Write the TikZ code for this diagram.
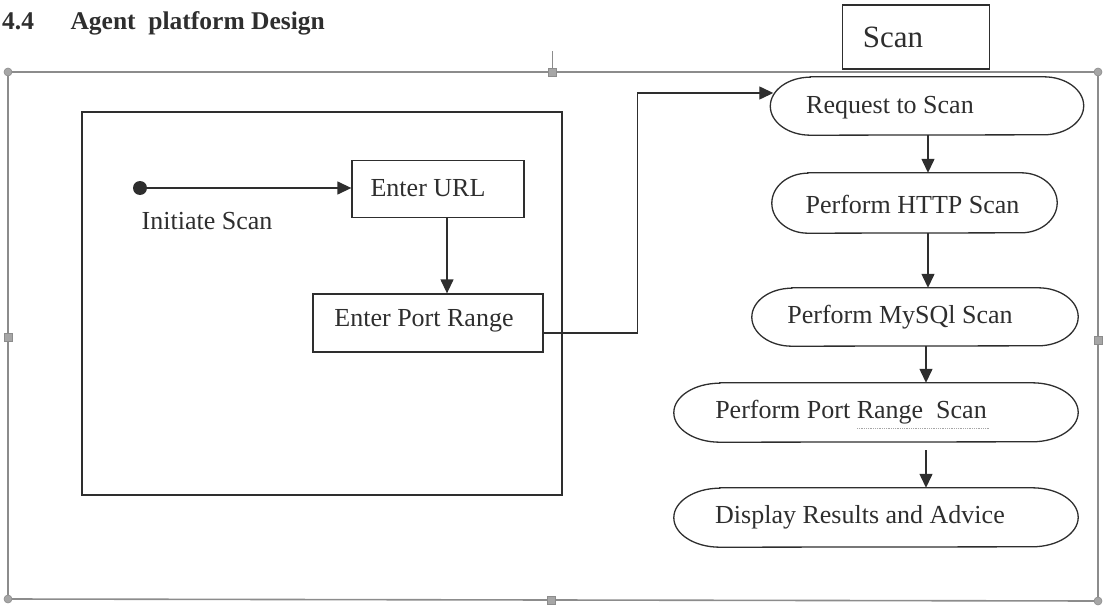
\documentclass[tikz,border=0pt]{standalone}
\usepackage{fontspec}
\setmainfont{Liberation Serif}
\usetikzlibrary{arrows.meta,calc}
\definecolor{ink}{HTML}{2E2E2E}
\definecolor{framegray}{HTML}{8C8C8C}
\definecolor{handlegray}{HTML}{A6A6A6}

% outline of a capsule node: straight top and bottom, elliptic ends
% #1 node name, #2 end x-radius (pt), #3 half height (pt)
\newcommand\capsuleoutline[3]{%
  \draw[flow] ($(#1.north west)+(#2,0)$) -- ($(#1.north east)+(-#2,0)$)
    arc[start angle=90,end angle=-90,x radius=#2pt,y radius=#3pt]
    -- ($(#1.south west)+(#2,0)$)
    arc[start angle=270,end angle=90,x radius=#2pt,y radius=#3pt] -- cycle;}

\begin{document}
\begin{tikzpicture}[x=1pt,y=-1pt,
  flow/.style={draw=ink, line width=1.3pt},
  txt/.style={font=\fontsize{26}{30}\selectfont, text=ink},
  stepbox/.style={flow, rectangle, inner sep=0pt},
  capsule/.style={rectangle, inner sep=0pt},
  arr/.style={draw=ink, line width=1.3pt, -{Triangle[length=14pt,width=13pt]}},
  handle/.style={fill=handlegray, draw=framegray, line width=0.6pt}]

\useasboundingbox (0,0) rectangle (1103,607);

% heading
\node[anchor=base west, inner xsep=0pt, font=\bfseries\fontsize{25.5}{30}\selectfont, text=ink] (secnum) at (2,30) {4.4};
\node[anchor=base west, font=\bfseries\fontsize{25.5}{30}\selectfont, text=ink] (title) at (67,30) {Agent\ \ platform Design};

% selection frame with its handles
\draw[framegray, line width=1.6pt] (8,72) -- (1098,72) -- (1098,601) -- (8,599) -- cycle;
\draw[framegray, line width=1pt] (552,68) -- (552,51);
\foreach \cx/\cy in {8/72, 1098/72, 8/599, 1098/601}
  \path[handle] (\cx,\cy) circle[radius=4pt];
\foreach \cx/\cy in {552/72, 8/337, 1098/340, 551/600}
  \path[handle] (\cx-4,\cy-4) rectangle (\cx+4,\cy+4);

% swimlane title
\node[stepbox, minimum width=147pt, minimum height=64pt,
      label={[font=\fontsize{31}{34}\selectfont, text=ink, xshift=-23pt]center:Scan}] (scanbox) at (916,37) {};

% left partition
\node[stepbox, minimum width=480pt, minimum height=383pt] (inputarea) at (322,303.5) {};

\node[circle, fill=ink, minimum size=14pt, inner sep=0pt] (init) at (140,188) {};
\node[txt] (initlabel) at (207,221) {Initiate Scan};
\node[stepbox, minimum width=172pt, minimum height=57pt,
      label={[txt, xshift=-10pt, yshift=1pt]center:Enter URL}] (url) at (438,189) {};
\node[stepbox, minimum width=230pt, minimum height=58pt,
      label={[txt, xshift=-4pt, yshift=2pt]center:Enter Port Range}] (prange) at (428,323) {};

% right column of activities
\node[capsule, minimum width=313pt, minimum height=58pt,
      label={[txt, xshift=-37pt, yshift=-2pt]center:Request to Scan}] (req) at (927,106) {};
\node[capsule, minimum width=285pt, minimum height=60pt,
      label={[txt, xshift=-2pt, yshift=-1pt]center:Perform HTTP\ Scan}] (http) at (914.5,203) {};
\node[capsule, minimum width=326pt, minimum height=58pt,
      label={[txt, xshift=-15pt]center:Perform MySQl Scan}] (mysql) at (915,317) {};
\node[capsule, minimum width=404pt, minimum height=59pt,
      label={[txt, xshift=-25pt]center:Perform Port Range\ \ Scan}] (port) at (876,412.5) {};
\node[capsule, minimum width=404pt, minimum height=59pt,
      label={[txt, xshift=-16pt]center:Display Results and Advice}] (disp) at (876,517.5) {};

\capsuleoutline{req}{40}{29}
\capsuleoutline{http}{36}{30}
\capsuleoutline{mysql}{40}{29}
\capsuleoutline{port}{46}{29.5}
\capsuleoutline{disp}{46}{29.5}

% spelling mark under "Range  Scan"
\draw[handlegray, line width=0.8pt, densely dotted] ([xshift=-19pt,yshift=-16pt]port.center) -- ([xshift=114pt,yshift=-16pt]port.center);

% connectors
\coordinate (reqin) at ([xshift=3pt,yshift=13pt]req.west);
\draw[arr] (init.east) -- (url.west |- init.east);
\draw[arr] ([xshift=9pt]url.south) -- ([xshift=9pt]url.south |- prange.north);
\draw[arr] ([yshift=-10pt]prange.east) -- ++(94,0) |- (reqin);
\draw[arr] ([xshift=1pt]req.south) -- ([xshift=1pt]req.south |- http.north);
\draw[arr] ([xshift=1pt]req.south |- http.south) -- ([xshift=1pt]req.south |- mysql.north);
\draw[arr] ([xshift=11pt]mysql.south) -- ([xshift=11pt]mysql.south |- port.north);
\draw[arr] ([xshift=50pt,yshift=-8pt]port.south) -- ([xshift=50pt]port.south |- disp.north);

\end{tikzpicture}
\end{document}
